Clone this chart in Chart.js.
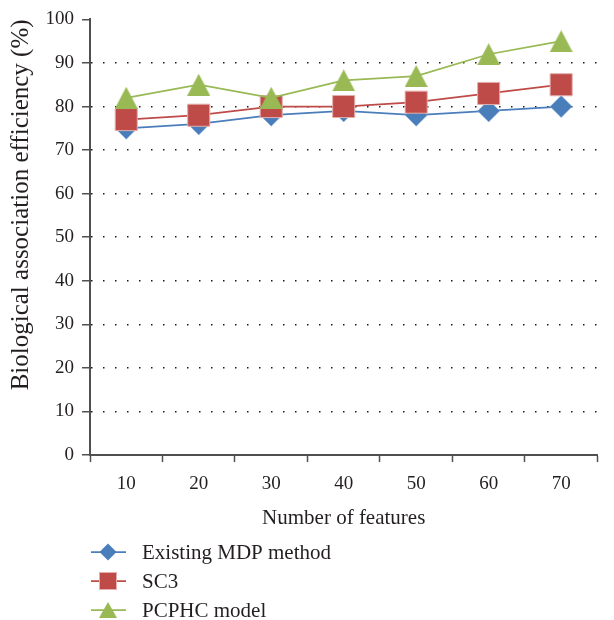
<!DOCTYPE html>
<html>
<head>
<meta charset="utf-8">
<script src="https://cdn.jsdelivr.net/npm/chart.js@4/dist/chart.umd.min.js"></script>
<style>
  html, body { margin: 0; padding: 0; background: #ffffff; }
  #wrap { width: 614px; height: 620px; position: relative; }
</style>
</head>
<body>
<div id="wrap"><canvas id="c" width="614" height="620"></canvas></div>
<script>
// ---- data ----
const categories = ['10', '20', '30', '40', '50', '60', '70'];
const existingMDP = [75, 76, 78, 79, 78, 79, 80];
const sc3 = [77, 78, 80, 80, 81, 83, 85];
const pcphc = [82, 85, 82, 86, 87, 92, 95];
const seriesNames = ['Existing MDP method', 'SC3', 'PCPHC model'];
const yMin = 0, yMax = 100, yStep = 10;
const xTitle = 'Number of features';
const yTitle = 'Biological association efficiency (%)';

// ---- styles ----
const BLUE = '#4A7EBB', RED = '#BE4B48', GREEN = '#98B954';
const TEXT = '#231F20', AXIS = '#505050';
const FONT = 'Liberation Serif';

function triangleImage(w, h, fill) {
  const c = document.createElement('canvas');
  c.width = w; c.height = h;
  const g = c.getContext('2d');
  g.fillStyle = fill;
  g.beginPath();
  g.moveTo(w / 2, 0);
  g.lineTo(w, h);
  g.lineTo(0, h);
  g.closePath();
  g.fill();
  return c;
}
const triBig = triangleImage(23, 22, GREEN);
const triSmall = triangleImage(18, 16, GREEN);

const legendPlugin = {
  id: 'stackedLegend',
  afterDraw(chart) {
    const ctx = chart.ctx;
    ctx.save();
    const x0 = 91, x1 = 126, mx = 108, tx = 142, y0 = 552, dy = 29;
    chart.data.datasets.forEach((ds, i) => {
      const y = y0 + i * dy;
      ctx.strokeStyle = ds.borderColor;
      ctx.lineWidth = 1.75;
      ctx.beginPath(); ctx.moveTo(x0, y); ctx.lineTo(x1, y); ctx.stroke();
      ctx.fillStyle = ds.pointBackgroundColor;
      if (ds.pointStyle === 'rectRot') {
        const r = 8.5;
        ctx.beginPath();
        ctx.moveTo(mx - r, y); ctx.lineTo(mx, y - r); ctx.lineTo(mx + r, y); ctx.lineTo(mx, y + r);
        ctx.closePath(); ctx.fill();
      } else if (ds.pointStyle === 'rect') {
        const s = 8.5;
        ctx.fillRect(mx - s, y - s, 2 * s, 2 * s);
        ctx.strokeStyle = ds.pointBorderColor; ctx.lineWidth = 1;
        ctx.strokeRect(mx - s, y - s, 2 * s, 2 * s);
      } else {
        ctx.drawImage(triSmall, mx - triSmall.width / 2, y - triSmall.height / 2);
      }
      ctx.fillStyle = TEXT;
      ctx.font = '21px "' + FONT + '"';
      ctx.textAlign = 'left';
      ctx.textBaseline = 'middle';
      ctx.fillText(ds.label, tx, y + 1);
    });
    ctx.restore();
  }
};

new Chart(document.getElementById('c'), {
  type: 'line',
  data: {
    labels: categories,
    datasets: [
      {
        label: seriesNames[0], data: existingMDP, order: 3,
        borderColor: BLUE, borderWidth: 1.75,
        pointStyle: 'rectRot', pointRadius: 11, pointHoverRadius: 11,
        pointBackgroundColor: BLUE, pointBorderColor: '#8FB0DA', pointBorderWidth: 0.5
      },
      {
        label: seriesNames[1], data: sc3, order: 2,
        borderColor: RED, borderWidth: 1.75,
        pointStyle: 'rect', pointRadius: 15.6, pointHoverRadius: 15.6,
        pointBackgroundColor: RED, pointBorderColor: '#E3AEAC', pointBorderWidth: 1
      },
      {
        label: seriesNames[2], data: pcphc, order: 1,
        borderColor: GREEN, borderWidth: 1.75,
        pointStyle: triBig, pointRadius: 12, pointHoverRadius: 12,
        pointBackgroundColor: GREEN, pointBorderColor: GREEN, pointBorderWidth: 0
      }
    ]
  },
  options: {
    responsive: false,
    animation: false,
    events: [],
    layout: { padding: { left: 0, right: 7, top: 17, bottom: 0 } },
    plugins: {
      legend: { display: false },
      tooltip: { enabled: false },
      title: { display: false }
    },
    scales: {
      x: {
        type: 'category',
        offset: true,
        border: { display: true, color: AXIS, width: 2 },
        grid: { display: true, offset: true, drawOnChartArea: false, drawTicks: true, tickLength: 7, tickColor: AXIS, tickWidth: 1.5 },
        ticks: { color: TEXT, font: { family: FONT, size: 19 }, padding: 11, maxRotation: 0 },
        title: { display: true, text: xTitle, color: TEXT, font: { family: FONT, size: 21 }, padding: { top: 0, bottom: 89 } },
        afterFit(scale) { scale.height = 165; }
      },
      y: {
        min: yMin, max: yMax,
        border: { display: true, color: AXIS, width: 2, dash: [1.5, 10.5] },
        grid: {
          display: true, drawOnChartArea: true, drawTicks: true, tickLength: 8,
          tickColor: AXIS, tickWidth: 1.5,
          color: (c) => (c.tick && (c.tick.value === yMin || c.tick.value === yMax)) ? 'rgba(0,0,0,0)' : '#1a1a1a',
          lineWidth: 1.5
        },
        ticks: { stepSize: yStep, color: TEXT, font: { family: FONT, size: 19 }, padding: 8 },
        title: { display: true, text: yTitle, align: 'end', color: TEXT, font: { family: FONT, size: 25 }, padding: { top: 6, bottom: 0 } },
        afterFit(scale) { scale.width = 90; }
      }
    }
  },
  plugins: [legendPlugin]
});
</script>
</body>
</html>
